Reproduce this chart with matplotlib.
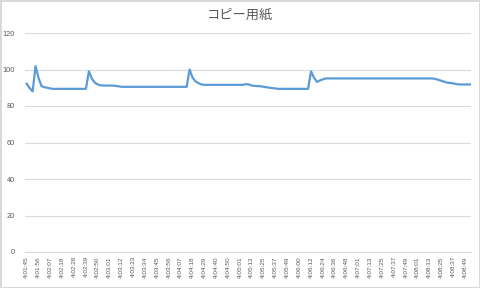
import matplotlib
matplotlib.use('Agg')
import matplotlib.pyplot as plt

title = 'コピー用紙'

tick_labels = ['4:01:45', '4:01:56', '4:02:07', '4:02:18', '4:02:28', '4:02:39',
               '4:02:50', '4:03:01', '4:03:12', '4:03:23', '4:03:34', '4:03:45',
               '4:03:56', '4:04:07', '4:04:18', '4:04:29', '4:04:40', '4:04:50',
               '4:05:01', '4:05:13', '4:05:25', '4:05:37', '4:05:49', '4:06:00',
               '4:06:12', '4:06:24', '4:06:36', '4:06:48', '4:07:01', '4:07:13',
               '4:07:25', '4:07:37', '4:07:49', '4:08:01', '4:08:13', '4:08:25',
               '4:08:37', '4:08:49']

# one sample roughly every 3 s, a label on every 4th sample
values = [
    92.2, 89.8, 88.0, 101.8, 95.4, 90.9, 90.3, 90.0, 89.6, 89.4,
    89.4, 89.4, 89.4, 89.4, 89.4, 89.4, 89.4, 89.4, 89.4, 89.4,
    89.4, 99.0, 95.0, 92.8, 91.8, 91.3, 91.2, 91.2, 91.2, 91.2,
    91.0, 90.8, 90.5, 90.5, 90.5, 90.5, 90.5, 90.5, 90.5, 90.5,
    90.5, 90.5, 90.5, 90.5, 90.5, 90.5, 90.5, 90.5, 90.5, 90.5,
    90.5, 90.5, 90.5, 90.5, 90.5, 100.0, 95.5, 93.5, 92.5, 91.8,
    91.6, 91.6, 91.6, 91.6, 91.6, 91.6, 91.6, 91.6, 91.6, 91.6,
    91.6, 91.6, 91.6, 91.6, 92.0, 91.8, 91.2, 91.0, 90.9, 90.8,
    90.5, 90.3, 90.0, 89.8, 89.6, 89.4, 89.4, 89.4, 89.4, 89.4,
    89.4, 89.4, 89.4, 89.4, 89.4, 89.4, 99.0, 95.5, 93.2, 94.0,
    94.6, 95.1, 95.1, 95.1, 95.1, 95.1, 95.1, 95.1, 95.1, 95.1,
    95.1, 95.1, 95.1, 95.1, 95.1, 95.1, 95.1, 95.1, 95.1, 95.1,
    95.1, 95.1, 95.1, 95.1, 95.1, 95.1, 95.1, 95.1, 95.1, 95.1,
    95.1, 95.1, 95.1, 95.1, 95.1, 95.1, 95.1, 95.1, 94.8, 94.3,
    93.8, 93.3, 92.8, 92.6, 92.4, 92.0, 91.8, 91.8, 91.8, 91.8,
    91.8,
]

grey = '#595959'
grid = '#d9d9d9'

fig = plt.figure(figsize=(4.8, 2.88), dpi=100)
fig.patch.set_edgecolor(grid)
fig.patch.set_linewidth(1.0)
ax = fig.add_axes([25 / 480, 1 - 252 / 288, 446 / 480, 219 / 288])

x = list(range(len(values)))
ax.plot(x, values, color='#5b9bd5', lw=1.6, solid_joinstyle='round')

ax.set_ylim(0, 120)
ax.set_yticks(range(0, 121, 20))
ax.set_xlim(-0.57, 150)
ax.set_xticks(range(0, 4 * len(tick_labels), 4))
ax.set_xticklabels(tick_labels, rotation=90, family='Liberation Sans',
                   fontsize=4.6, color=grey)
for lbl in ax.get_yticklabels():
    lbl.set_family('Liberation Sans')
    lbl.set_fontsize(5.3)
    lbl.set_color(grey)

ax.tick_params(length=0)
ax.tick_params(axis='x', pad=3)
ax.tick_params(axis='y', pad=7)
ax.grid(axis='y', color=grid, lw=0.8)
ax.set_axisbelow(True)
for side in ['top', 'right', 'left']:
    ax.spines[side].set_visible(False)
ax.spines['bottom'].set_color(grid)
ax.spines['bottom'].set_linewidth(0.8)

fig.text(0.5, 1 - 15 / 288, title, ha='center', va='center', fontsize=9.5,
         color=grey, family=['Noto Sans CJK JP', 'DejaVu Sans'])

plt.savefig('out.png', dpi=100)
